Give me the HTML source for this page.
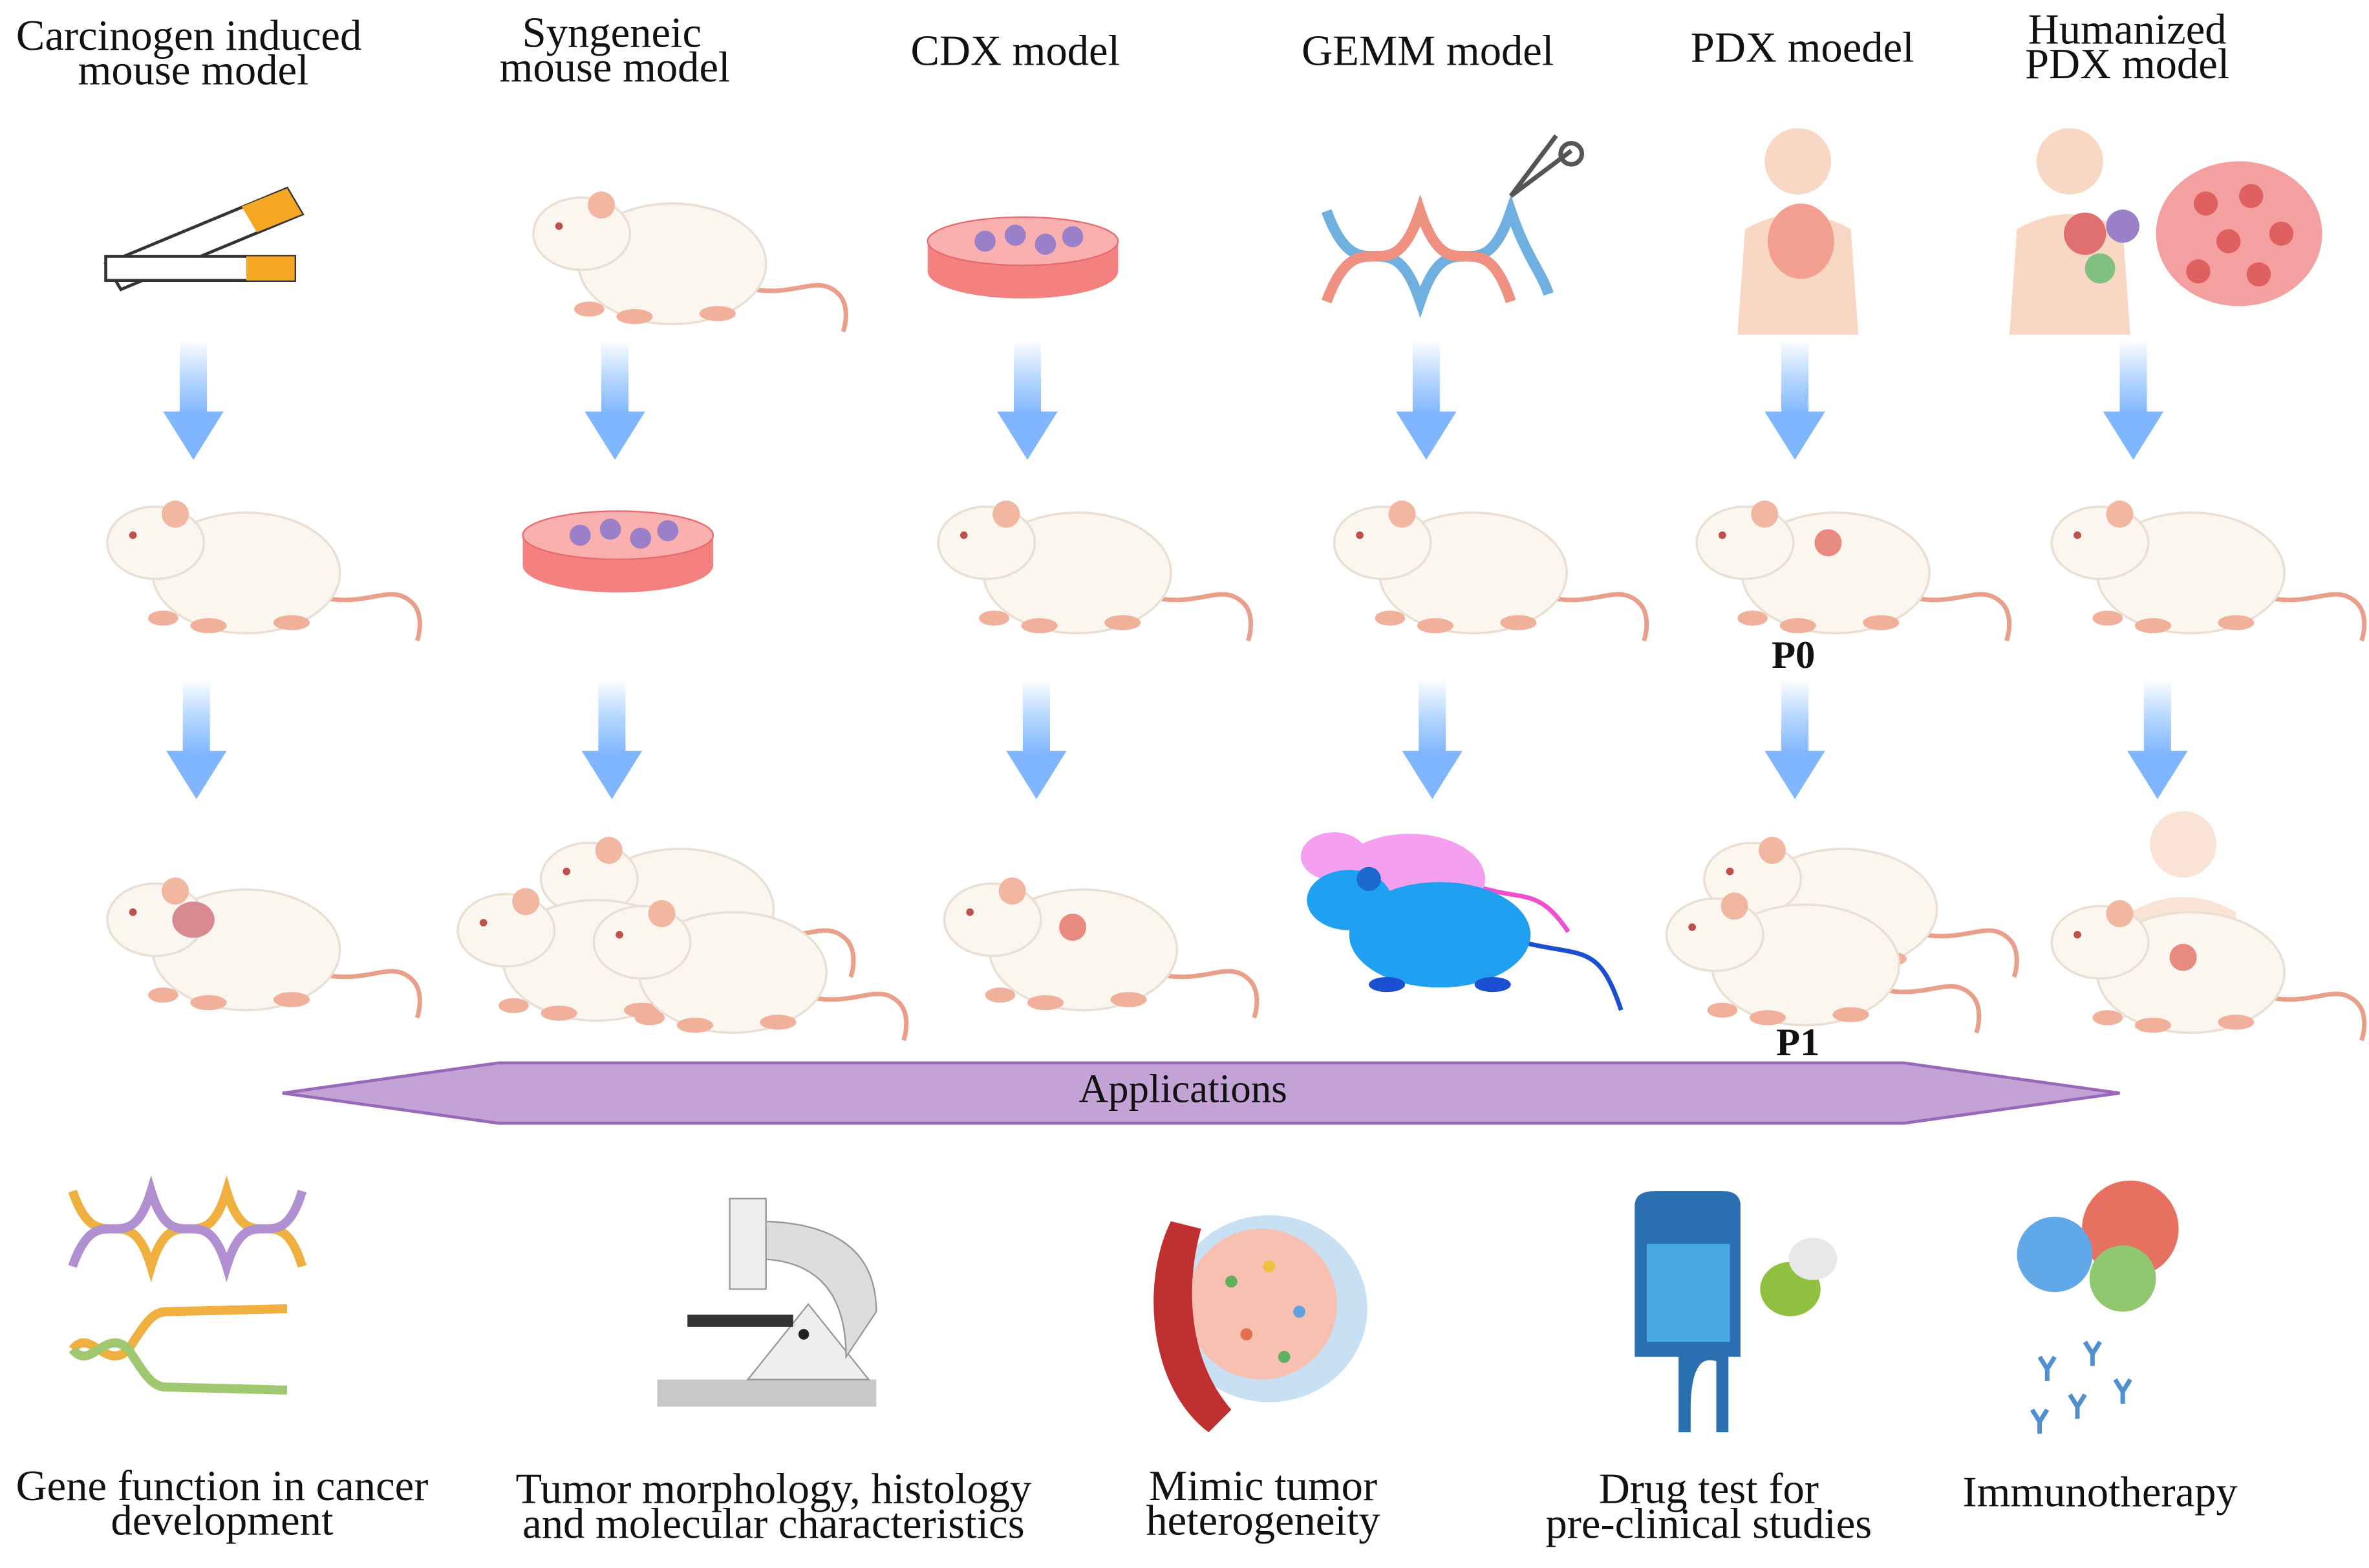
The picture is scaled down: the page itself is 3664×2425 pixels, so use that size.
<!DOCTYPE html>
<html><head><meta charset="utf-8"><style>
html,body{margin:0;padding:0;background:#fff;}
svg{display:block}
text{font-family:"Liberation Serif",serif;fill:#111;}
</style></head><body>
<svg width="3664" height="2425" viewBox="0 0 1568 1040" preserveAspectRatio="none" xmlns="http://www.w3.org/2000/svg">
<defs>
<linearGradient id="ag" x1="0" y1="0" x2="0" y2="1">
<stop offset="0" stop-color="#ffffff"/><stop offset="0.5" stop-color="#b8d8ff"/><stop offset="1" stop-color="#7fb6ff"/>
</linearGradient>
<g id="arrow">
<rect x="-9" y="0" width="18" height="50" fill="url(#ag)"/>
<polygon points="-20,48 20,48 0,80" fill="#7fb6ff"/>
</g>
<g id="mouse">
<path d="M150,70 C185,80 200,60 215,75 C222,82 220,95 218,100" stroke="#e8a08a" stroke-width="3" fill="none"/>
<ellipse cx="105" cy="55" rx="62" ry="40" fill="#fbf6ef" stroke="#eadfd2" stroke-width="1.5"/>
<ellipse cx="45" cy="35" rx="32" ry="24" fill="#fbf6ef" stroke="#eadfd2" stroke-width="1.5"/>
<circle cx="58" cy="16" r="9" fill="#f2b7a0"/>
<circle cx="30" cy="30" r="2.5" fill="#c0504a"/>
<ellipse cx="50" cy="85" rx="10" ry="5" fill="#f0b09a"/>
<ellipse cx="80" cy="90" rx="12" ry="5" fill="#f0b09a"/>
<ellipse cx="135" cy="88" rx="12" ry="5" fill="#f0b09a"/>
</g>
<g id="dish">
<ellipse cx="65" cy="40" rx="63" ry="18" fill="#f48080"/>
<rect x="2" y="20" width="126" height="20" fill="#f48080"/>
<ellipse cx="65" cy="20" rx="63" ry="16" fill="#fbb0b0" stroke="#e86a6a"/>
<circle cx="40" cy="20" r="7" fill="#9a80c8"/><circle cx="60" cy="16" r="7" fill="#9a80c8"/>
<circle cx="80" cy="22" r="7" fill="#9a80c8"/><circle cx="98" cy="17" r="7" fill="#9a80c8"/>
</g>
<g id="human">
<circle cx="40" cy="25" r="22" fill="#f8d8c4"/>
<path d="M0,140 L5,70 Q40,50 75,70 L80,140 Z" fill="#f8d8c4"/>
</g>
</defs>

<g font-size="28.5" text-anchor="middle">
<text x="125" y="33">Carcinogen induced</text><text x="128" y="56">mouse model</text>
<text x="405" y="31">Syngeneic</text><text x="407" y="54">mouse model</text>
<text x="672" y="43">CDX model</text>
<text x="945" y="43">GEMM model</text>
<text x="1193" y="41">PDX moedel</text>
<text x="1408" y="29">Humanized</text><text x="1408" y="52">PDX model</text>
</g>

<g>
<polygon points="70,175 190,125 200,142 80,192" fill="#fff" stroke="#333" stroke-width="2"/>
<polygon points="160,137 190,125 200,142 170,154" fill="#f5a623"/>
<polygon points="70,170 195,170 195,186 70,186" fill="#fff" stroke="#333" stroke-width="2"/>
<rect x="163" y="170" width="32" height="16" fill="#f5a623"/>
</g>
<use href="#mouse" x="340" y="120"/>
<use href="#dish" x="612" y="140"/>
<g fill="none" stroke-width="7">
<path d="M878,140 C900,200 920,140 940,200 C960,140 980,200 1000,140 C1010,170 1020,180 1025,195" stroke="#70b0e0"/>
<path d="M878,200 C900,140 920,200 940,140 C960,200 980,140 1000,200" stroke="#f09080"/>
</g>
<path d="M1000,130 L1040,100 M1000,130 L1030,90" stroke="#555" stroke-width="3"/>
<circle cx="1040" cy="102" r="7" fill="none" stroke="#555" stroke-width="3"/>
<use href="#human" x="1150" y="82"/>
<ellipse cx="1192" cy="160" rx="22" ry="25" fill="#f4a090"/>
<use href="#human" x="1330" y="82"/>
<circle cx="1380" cy="155" r="14" fill="#e07070"/><circle cx="1405" cy="150" r="11" fill="#9a80c8"/><circle cx="1390" cy="178" r="10" fill="#80c080"/>
<ellipse cx="1482" cy="155" rx="55" ry="48" fill="#f4a0a0"/>
<g fill="#e06060"><circle cx="1460" cy="135" r="8"/><circle cx="1490" cy="130" r="8"/><circle cx="1510" cy="155" r="8"/><circle cx="1475" cy="160" r="8"/><circle cx="1455" cy="180" r="8"/><circle cx="1495" cy="182" r="8"/></g>

<use href="#arrow" x="128" y="225"/><use href="#arrow" x="407" y="225"/><use href="#arrow" x="680" y="225"/>
<use href="#arrow" x="944" y="225"/><use href="#arrow" x="1188" y="225"/><use href="#arrow" x="1412" y="225"/>

<use href="#mouse" x="58" y="325"/>
<use href="#dish" x="344" y="335"/>
<use href="#mouse" x="608" y="325"/>
<use href="#mouse" x="870" y="325"/>
<use href="#mouse" x="1110" y="325"/>
<circle cx="1210" cy="360" r="9" fill="#e88a80"/>
<use href="#mouse" x="1345" y="325"/>
<text x="1187" y="443" font-size="26" font-weight="bold" text-anchor="middle">P0</text>

<use href="#arrow" x="130" y="450"/><use href="#arrow" x="405" y="450"/><use href="#arrow" x="686" y="450"/>
<use href="#arrow" x="948" y="450"/><use href="#arrow" x="1188" y="450"/><use href="#arrow" x="1428" y="450"/>

<use href="#mouse" x="58" y="575"/>
<ellipse cx="128" cy="610" rx="14" ry="12" fill="#d88a90"/>
<use href="#mouse" x="345" y="548"/>
<use href="#mouse" x="290" y="582"/>
<use href="#mouse" x="380" y="590"/>
<use href="#mouse" x="612" y="575"/>
<circle cx="710" cy="615" r="9" fill="#e88a80"/>
<g transform="translate(858,548)">
<path d="M120,40 C150,50 160,40 180,70" stroke="#f050d0" stroke-width="3" fill="none"/>
<ellipse cx="75" cy="35" rx="50" ry="30" fill="#f59ff0"/><ellipse cx="25" cy="20" rx="22" ry="16" fill="#f59ff0"/>
</g>
<g transform="translate(868,575)">
<path d="M140,50 C180,60 190,50 205,95" stroke="#1a4fd0" stroke-width="3" fill="none"/>
<ellipse cx="85" cy="45" rx="60" ry="35" fill="#20a0f0"/><ellipse cx="25" cy="22" rx="28" ry="20" fill="#20a0f0"/>
<circle cx="38" cy="8" r="8" fill="#1a6ad0"/>
<ellipse cx="50" cy="78" rx="12" ry="5" fill="#1a4fd0"/><ellipse cx="120" cy="78" rx="12" ry="5" fill="#1a4fd0"/>
</g>
<use href="#mouse" x="1115" y="548"/>
<use href="#mouse" x="1090" y="585"/>
<text x="1190" y="700" font-size="26" font-weight="bold" text-anchor="middle">P1</text>
<use href="#human" x="1405" y="535" opacity="0.7"/>
<use href="#mouse" x="1345" y="590"/>
<circle cx="1445" cy="635" r="9" fill="#e88a80"/>

<polygon points="187,725 330,705 1260,705 1403,725 1260,745 330,745" fill="#c3a3d6" stroke="#9a68b8" stroke-width="2"/>
<text x="783" y="731" font-size="27" text-anchor="middle">Applications</text>

<g fill="none" stroke-width="6">
<path d="M48,790 C65,840 85,790 100,840 C115,790 135,840 150,790 C165,840 185,790 200,840" stroke="#f0b040"/>
<path d="M48,840 C65,790 85,840 100,790 C115,840 135,790 150,840 C165,790 185,840 200,790" stroke="#b090d0"/>
<path d="M48,895 C60,880 70,910 85,895 C95,880 100,870 110,870 L190,868" stroke="#f0b040"/>
<path d="M48,895 C60,910 70,880 85,895 C95,910 100,920 110,920 L190,922" stroke="#a0c870"/>
</g>
<g>
<rect x="435" y="915" width="145" height="18" fill="#c8c8c8"/>
<polygon points="495,915 535,865 575,915" fill="#eee" stroke="#999"/>
<path d="M500,810 Q580,810 580,870 L560,900 Q560,835 500,835 Z" fill="#ddd" stroke="#999"/>
<rect x="483" y="795" width="24" height="60" fill="#eee" stroke="#999"/>
<rect x="455" y="872" width="70" height="8" fill="#333"/>
<circle cx="532" cy="885" r="3.5" fill="#222"/>
</g>
<g>
<ellipse cx="840" cy="868" rx="65" ry="62" fill="#c8e0f4"/>
<ellipse cx="835" cy="865" rx="50" ry="50" fill="#f8c0b0"/>
<path d="M775,810 C755,850 760,920 800,950 L815,935 C785,900 785,850 795,815 Z" fill="#c03030"/>
<g><circle cx="815" cy="850" r="4" fill="#60b060"/><circle cx="840" cy="840" r="4" fill="#f0c040"/><circle cx="860" cy="870" r="4" fill="#60a0e0"/><circle cx="825" cy="885" r="4" fill="#e07050"/><circle cx="850" cy="900" r="4" fill="#60b060"/></g>
</g>
<g>
<path d="M1082,800 Q1082,790 1095,790 L1140,790 Q1152,790 1152,800 L1152,900 L1082,900 Z" fill="#2a6fb0"/>
<rect x="1090" y="825" width="55" height="65" fill="#4aa8e0"/>
<path d="M1115,900 L1115,950 M1115,935 Q1115,890 1140,900 L1140,950" stroke="#2a6fb0" stroke-width="8" fill="none"/>
<ellipse cx="1185" cy="855" rx="20" ry="18" fill="#90c040"/>
<ellipse cx="1200" cy="835" rx="16" ry="14" fill="#e8e8e8"/>
</g>
<g>
<circle cx="1410" cy="815" r="32" fill="#e87060"/>
<circle cx="1360" cy="832" r="25" fill="#60a8e8"/>
<circle cx="1405" cy="848" r="22" fill="#90c870"/>
<g stroke="#5090d0" stroke-width="3" fill="none">
<path d="M1350,900 l5,8 l5,-8 M1355,908 v8"/><path d="M1380,890 l5,8 l5,-8 M1385,898 v8"/>
<path d="M1370,925 l5,8 l5,-8 M1375,933 v8"/><path d="M1400,915 l5,8 l5,-8 M1405,923 v8"/>
<path d="M1345,935 l5,8 l5,-8 M1350,943 v8"/>
</g>
</g>

<g font-size="28.5" text-anchor="middle">
<text x="147" y="995">Gene function in cancer</text><text x="147" y="1018">development</text>
<text x="512" y="997">Tumor morphology, histology</text><text x="512" y="1020">and molecular characteristics</text>
<text x="836" y="995">Mimic tumor</text><text x="836" y="1018">heterogeneity</text>
<text x="1131" y="997">Drug test for</text><text x="1131" y="1020">pre-clinical studies</text>
<text x="1390" y="999">Immunotherapy</text>
</g>
</svg>
</body></html>
